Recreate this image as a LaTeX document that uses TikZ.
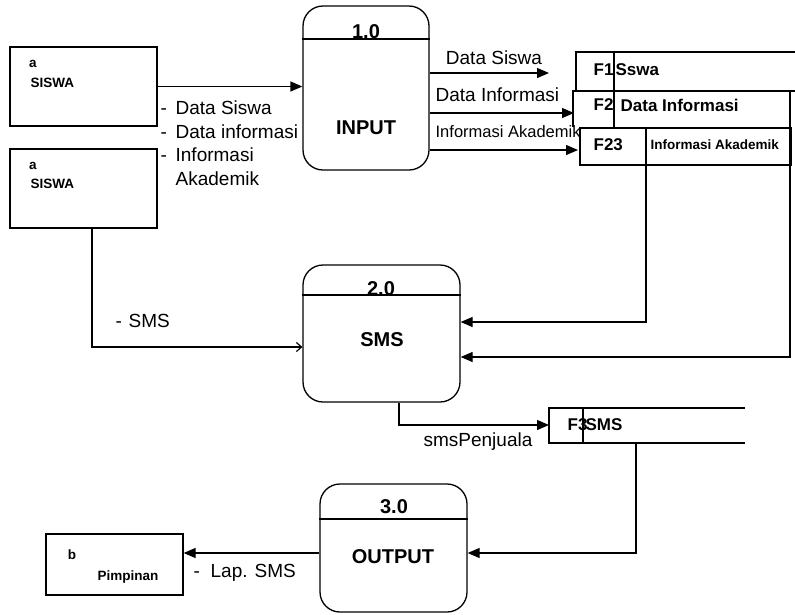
\documentclass[tikz,border=0pt]{standalone}
\usepackage{fontspec}
\setmainfont{Liberation Sans}
\usetikzlibrary{arrows.meta}
\begin{document}
\begin{tikzpicture}[x=1pt,y=-1pt,line width=1.3pt,
  proc/.style={draw, rounded corners=20pt, inner sep=0pt},
  ent/.style={draw, rectangle, inner sep=0pt},
  flow/.style={-{Triangle[length=12pt,width=10pt]}},
  thinflow/.style={-{Straight Barb[length=5pt,width=9pt]}},
  lbl/.style={font=\fontsize{19}{21}\selectfont, inner sep=0pt},
  lblb/.style={font=\fontsize{19}{21}\selectfont, inner sep=0pt, anchor=base west},
  lblsm/.style={font=\fontsize{16.5}{18}\selectfont, inner sep=0pt},
  ptitle/.style={font=\bfseries\fontsize{20}{22}\selectfont, inner sep=0pt},
  stxt/.style={font=\bfseries\fontsize{17}{19}\selectfont, inner sep=0pt, anchor=west},
  etxt/.style={font=\bfseries\fontsize{13.5}{15}\selectfont, inner sep=0pt},
]
\useasboundingbox (0,0) rectangle (795,614);

% external entities
\node[ent, minimum width=147pt, minimum height=79pt] (s1) at (83.5,86.5) {};
\node[etxt] (s1a) at (33,64) {a};
\node[etxt, anchor=west] (s1n) at (30,83) {SISWA};
\node[ent, minimum width=147pt, minimum height=79pt] (s2) at (83.5,188.5) {};
\node[etxt] (s2a) at (33,166) {a};
\node[etxt, anchor=west] (s2n) at (30,184) {SISWA};
\node[ent, minimum width=137pt, minimum height=61pt] (pim) at (114.5,564.5) {};
\node[etxt] (pimb) at (72,555) {b};
\node[etxt, anchor=west] (pimn) at (97,577) {Pimpinan};

% processes
\node[proc, minimum width=126pt, minimum height=164pt] (p1) at (366,88) {};
\coordinate (h1) at (0,39);
\draw (p1.west |- h1) -- (p1.east |- h1);
\node[ptitle] (p1n) at (366,32) {1.0};
\node[ptitle] (p1t) at (366,128) {INPUT};

\node[proc, minimum width=157pt, minimum height=137pt] (p2) at (381.5,333.5) {};
\coordinate (h2) at (0,295);
\draw (p2.west |- h2) -- (p2.east |- h2);
\node[ptitle] (p2n) at (381,289) {2.0};
\node[ptitle] (p2t) at (382,340) {SMS};

\node[proc, minimum width=147pt, minimum height=128pt] (p3) at (393.5,548) {};
\coordinate (h3) at (0,519);
\draw (p3.west |- h3) -- (p3.east |- h3);
\node[ptitle] (p3n) at (394,507) {3.0};
\node[ptitle] (p3t) at (393,557) {OUTPUT};

% data stores
\draw (795,52) -- (576,52) -- (576,91);
\draw (614,52) -- (614,127);
\node[stxt] (f1a) at (593,70) {F1};
\node[stxt] (f1b) at (615,70) {Sswa};
\draw (795,91) -- (573,91) -- (573,127);
\node[stxt] (f2a) at (593,105) {F2};
\node[stxt] (f2b) at (620,105) {Data Informasi};
\node[ent, minimum width=211pt, minimum height=37pt, fill=white] (f23) at (685.5,146.5) {};
\node[stxt] (f23a) at (593,145) {F23};
\node[font=\bfseries\fontsize{13.5}{15}\selectfont, inner sep=0pt, anchor=west] (f23b) at (650,145) {Informasi Akademik};

\draw (745,408) -- (549,408) -- (549,443) -- (745,443);
\draw (583,408) -- (583,443);
\node[stxt] (f3a) at (567,425) {F3};
\node[stxt] (f3b) at (585,425) {SMS};

% flows
\draw[flow] (s1.east) -- (s1.east -| p1.west);
\node[lblb] (l1) at (160,114) {-};
\node[lblb] (l1t) at (175,114) {Data Siswa};
\node[lblb] (l2) at (160,138) {-};
\node[lblb] (l2t) at (175,138) {Data informasi};
\node[lblb] (l3) at (160,161) {-};
\node[lblb] (l3t) at (175,161) {Informasi};
\node[lblb] (l4t) at (175,185) {Akademik};

\coordinate (o1) at (549,73);
\coordinate (o2) at (574,113);
\coordinate (o3) at (578,150);
\draw[flow] (p1.east |- o1) -- (o1);
\draw[flow] (p1.east |- o2) -- (o2);
\draw[flow] (p1.east |- o3) -- (o3);
\node[lbl] (m1) at (494,58) {Data Siswa};
\node[lbl, anchor=west] (m2) at (435,95) {Data Informasi};
\node[lblsm, anchor=west] (m3) at (435,132) {Informasi Akademik};

\coordinate (d23) at (646,127);
\coordinate (k1) at (646,322);
\draw (d23) -- (646,165);
\draw[flow] (646,165) -- (k1) -- (k1 -| p2.east);
\coordinate (r2) at (790,91);
\coordinate (k2) at (790,357);
\draw[flow] (r2) -- (k2) -- (k2 -| p2.east);

\coordinate (k3) at (92,347);
\draw[thinflow, line width=1.2pt] (k3 |- s2.south) -- (k3) -- (k3 -| p2.west);
\node[lblb] (l5) at (115,327) {-};
\node[lblb] (l5t) at (128,327) {SMS};

\coordinate (k4) at (399,425);
\coordinate (f3l) at (549,425);
\draw[flow] (k4 |- p2.south) -- (k4) -- (f3l);
\node[lbl] (l6) at (478,442) {smsPenjuala};

\coordinate (k5) at (636,553);
\draw[flow] (636,443) -- (k5) -- (k5 -| p3.east);

\coordinate (k6) at (0,553);
\draw[flow] (p3.west |- k6) -- (k6 -| pim.east);
\node[lblb] (l7) at (193,577) {-};
\node[lblb] (l7t) at (210,577) {Lap. SMS};
\end{tikzpicture}
\end{document}
